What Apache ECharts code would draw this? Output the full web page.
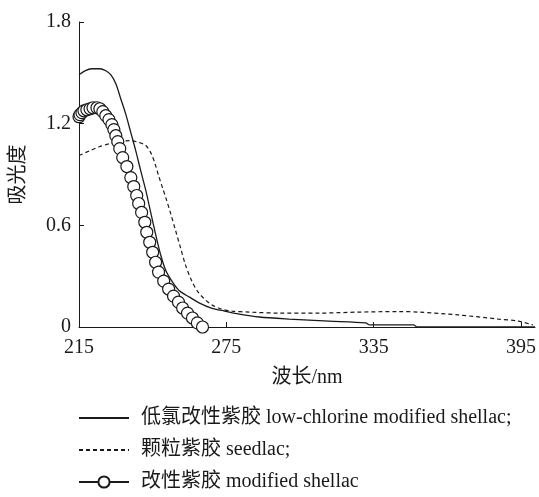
<!DOCTYPE html>
<html>
<head>
<meta charset="utf-8">
<script src="https://cdn.jsdelivr.net/npm/echarts@6/dist/echarts.min.js"></script>
<style>
html,body{margin:0;padding:0;background:#fff;}
#chart{width:539px;height:497px;}
</style>
</head>
<body>
<div id="chart"></div>
<script>
// Wavelength (nm) / absorbance pairs
var lowChlorineX = [215, 217.4, 220.3, 223.5, 225.9, 228.0, 230.0, 232.0, 234.1, 236.1, 238.1, 240.1, 242.2, 244.2, 246.2, 248.2, 250.3, 253.1, 256.0, 260.0, 264.1, 268.9, 274.2, 280.3, 288.4, 300.5, 316.8, 331.8, 333.4, 351.2, 352.8, 400.7];
var lowChlorineY = [1.488, 1.512, 1.524, 1.524, 1.512, 1.488, 1.435, 1.347, 1.253, 1.147, 1.041, 0.924, 0.806, 0.676, 0.547, 0.429, 0.335, 0.265, 0.212, 0.176, 0.141, 0.112, 0.094, 0.076, 0.059, 0.047, 0.035, 0.024, 0.012, 0.012, 0.0, 0.0];

var seedlacX = [215, 219.5, 223.5, 227.6, 231.6, 235.7, 239.7, 242.2, 244.2, 245.8, 247.4, 249.1, 250.7, 252.3, 254.3, 256.4, 258.4, 260.8, 263.2, 266.1, 269.3, 273.0, 277.4, 284.3, 296.5, 312.7, 328.9, 345.1, 353.2, 369.5, 385.7, 393.8, 399.9];
var seedlacY = [1.012, 1.041, 1.065, 1.082, 1.094, 1.1, 1.088, 1.071, 1.029, 0.971, 0.894, 0.818, 0.747, 0.671, 0.571, 0.465, 0.365, 0.276, 0.212, 0.165, 0.129, 0.106, 0.094, 0.088, 0.082, 0.082, 0.088, 0.091, 0.088, 0.071, 0.047, 0.035, 0.012];

var modifiedX = [215, 215.4, 216.2, 217.0, 218.2, 219.5, 220.7, 222.3, 223.5, 224.7, 225.9, 227.2, 228.4, 229.2, 230.0, 230.8, 231.6, 232.8, 234.5, 236.1, 237.3, 238.5, 239.3, 240.5, 241.8, 242.6, 243.8, 245.0, 246.2, 247.4, 249.5, 251.5, 253.5, 255.5, 257.2, 259.2, 261.2, 263.2, 265.3];
var modifiedY = [1.241, 1.253, 1.265, 1.276, 1.282, 1.288, 1.294, 1.294, 1.288, 1.271, 1.247, 1.224, 1.194, 1.165, 1.129, 1.094, 1.053, 1.0, 0.947, 0.882, 0.829, 0.776, 0.729, 0.676, 0.618, 0.559, 0.5, 0.441, 0.382, 0.324, 0.271, 0.224, 0.182, 0.147, 0.112, 0.082, 0.053, 0.024, 0.0];

var seriesNames = ['低氯改性紫胶 low-chlorine modified shellac;', '颗粒紫胶 seedlac;', '改性紫胶 modified shellac'];
var xTicks = {min: 215, max: 400.7, interval: 60};
var yTicks = {min: 0, max: 1.8, interval: 0.6};

function pairs(xs, ys) { return xs.map(function (x, i) { return [x, ys[i]]; }); }

var FONT = '"Liberation Serif", "Times New Roman", "Noto Sans CJK SC", serif';
var INK = '#1a1a1a';

var chart = echarts.init(document.getElementById('chart'), null, {renderer: 'canvas'});
chart.setOption({
  backgroundColor: '#fff',
  animation: false,
  grid: {left: 79, right: 2, top: 22, bottom: 170},
  legend: {
    orient: 'vertical',
    left: 78,
    top: 408,
    height: 89,
    padding: 0,
    itemWidth: 50,
    itemHeight: 14,
    itemGap: 12,
    selectedMode: false,
    textStyle: {fontFamily: FONT, fontSize: 20, color: INK, lineHeight: 20, padding: [0, 0, 0, 7]},
    data: [
      {name: seriesNames[0], itemStyle: {opacity: 0}},
      {name: seriesNames[1], itemStyle: {opacity: 0}},
      {name: seriesNames[2]}
    ]
  },
  xAxis: {
    type: 'value',
    min: xTicks.min, max: xTicks.max, interval: xTicks.interval,
    name: '波长/nm', nameLocation: 'middle', nameGap: 41,
    nameTextStyle: {fontFamily: FONT, fontSize: 20, color: INK},
    axisLine: {show: true, lineStyle: {color: INK, width: 1}},
    axisTick: {show: true, inside: true, length: 5, lineStyle: {color: INK}},
    axisLabel: {fontFamily: FONT, fontSize: 20, color: INK, margin: 11, showMaxLabel: false},
    splitLine: {show: false}
  },
  yAxis: {
    type: 'value',
    min: yTicks.min, max: yTicks.max, interval: yTicks.interval,
    name: '吸光度', nameLocation: 'middle', nameGap: 50, nameRotate: 90,
    nameTextStyle: {fontFamily: FONT, fontSize: 20, color: INK},
    axisLine: {show: true, lineStyle: {color: INK, width: 1}},
    axisTick: {show: true, inside: true, length: 5, lineStyle: {color: INK}},
    axisLabel: {fontFamily: FONT, fontSize: 20, color: INK, margin: 8},
    splitLine: {show: false}
  },
  series: [
    {
      name: seriesNames[0], type: 'line', data: pairs(lowChlorineX, lowChlorineY),
      symbol: 'none', smooth: 0.3,
      lineStyle: {color: INK, width: 1.3}, itemStyle: {color: INK}
    },
    {
      name: seriesNames[1], type: 'line', data: pairs(seedlacX, seedlacY),
      symbol: 'none', smooth: 0.3,
      lineStyle: {color: INK, width: 1.2, type: [4, 3]}, itemStyle: {color: INK}
    },
    {
      name: seriesNames[2], type: 'line', data: pairs(modifiedX, modifiedY),
      symbol: 'circle', symbolSize: 12, showAllSymbol: true, clip: false,
      lineStyle: {color: INK, width: 1.2},
      itemStyle: {color: '#fff', borderColor: INK, borderWidth: 1.2}
    }
  ]
});
</script>
</body>
</html>
